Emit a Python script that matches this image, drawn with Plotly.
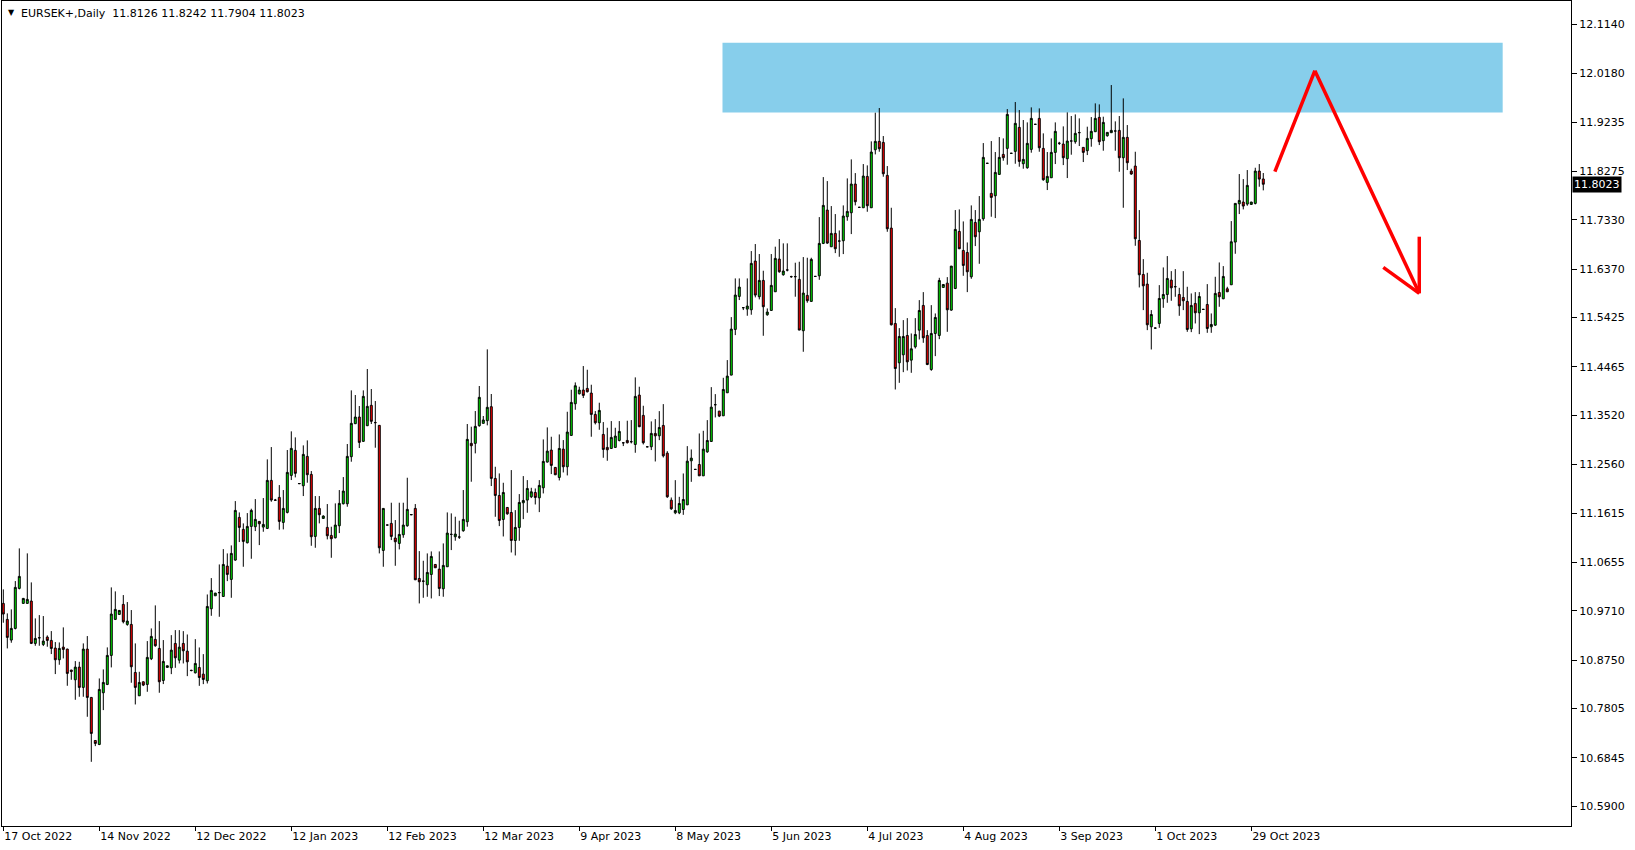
import plotly.graph_objects as go

title_text = "EURSEK+,Daily  11.8126 11.8242 11.7904 11.8023"
last_price = 11.8023

opens = [
10.9854, 10.9542, 10.9139, 10.9366, 11.0146, 10.9854, 10.9854, 10.9899, 10.9074, 10.9180,
10.9054, 10.9197, 10.9132, 10.8983, 10.8755, 10.9002, 10.8963, 10.8554, 10.8365, 10.8612,
10.8216, 10.8963, 10.8021, 10.7182, 10.7104, 10.8112, 10.8274, 10.8840, 10.9542, 10.9639,
10.9834, 10.9444, 10.9444, 10.8508, 10.8053, 10.8326, 10.8274, 10.8775, 10.9152, 10.8976,
10.8352, 10.8606, 10.8598, 10.9073, 10.8748, 10.9073, 10.8923, 10.8550, 10.8501, 10.8605,
10.8475, 10.8345, 10.9749, 11.0002, 11.0061, 10.9989, 11.0581, 11.0321, 11.0698, 11.1530,
11.1296, 11.1036, 11.1354, 11.1348, 11.1452, 11.1341, 11.1315, 11.2251, 11.1868, 11.1920,
11.1432, 11.1627, 11.2349, 11.2836, 11.2186, 11.2147, 11.2719, 11.2368, 11.1159, 11.1705,
11.1510, 11.1335, 11.1179, 11.1133, 11.1367, 11.1796, 11.1796, 11.2713, 11.3356, 11.3486,
11.3012, 11.3317, 11.3714, 11.3380, 11.3324, 11.0886, 11.1380, 11.1413, 11.1127, 11.1023,
11.1192, 11.1367, 11.1580, 11.1705, 11.0340, 11.0290, 11.0217, 11.0418, 11.0613, 11.0522,
11.0139, 11.0568, 11.1198, 11.1153, 11.1146, 11.1270, 11.1445, 11.2973, 11.2973, 11.3317,
11.3363, 11.3415, 11.3688, 11.2289, 11.1958, 11.1490, 11.1724, 11.1626, 11.1080, 11.1334,
11.1815, 11.1867, 11.1932, 11.2016, 11.1912, 11.2107, 11.2608, 11.2842, 11.2504, 11.2309,
11.2861, 11.2517, 11.3128, 11.3745, 11.3940, 11.4012, 11.4044, 11.3953, 11.3537, 11.3375,
11.3147, 11.2894, 11.2874, 11.2894, 11.3030, 11.2985, 11.3030, 11.3004, 11.2952, 11.3914,
11.3518, 11.2907, 11.2907, 11.3166, 11.3120, 11.3322, 11.2782, 11.1866, 11.1619, 11.1619,
11.1684, 11.1775, 11.2633, 11.2464, 11.2561, 11.2340, 11.2808, 11.3010, 11.3725, 11.3601,
11.3510, 11.3959, 11.4303, 11.5194, 11.5837, 11.5616, 11.5590, 11.5577, 11.6526, 11.5831,
11.6149, 11.5480, 11.5564, 11.5928, 11.6565, 11.6260, 11.6351, 11.6221, 11.6221, 11.6169,
11.5168, 11.5857, 11.5740, 11.6226, 11.6239, 11.6870, 11.7520, 11.6805, 11.7065, 11.6915,
11.6922, 11.7390, 11.7468, 11.8027, 11.7572, 11.7565, 11.8176, 11.7565, 11.8696, 11.8859,
11.8839, 11.8196, 11.7169, 11.5310, 11.4543, 11.4699, 11.5076, 11.4595, 11.4855, 11.5180,
11.5661, 11.5076, 11.4413, 11.5115, 11.5076, 11.6012, 11.6096, 11.5570, 11.5992, 11.7104,
11.6733, 11.6694, 11.6220, 11.7279, 11.7097, 11.7351, 11.8430, 11.7845, 11.7799, 11.8215,
11.8605, 11.8722, 11.8625, 11.8664, 11.9132, 11.8423, 11.8345, 11.8703, 11.9190, 11.9307,
11.8722, 11.8059, 11.8150, 11.8644, 11.8820, 11.8807, 11.8521, 11.8865, 11.8852, 11.9028,
11.8742, 11.8677, 11.8911, 11.9047, 11.9327, 11.8872, 11.8969, 11.9028, 11.9060, 11.9073,
11.8540, 11.8937, 11.8280, 11.8378, 11.6928, 11.6265, 11.6077, 11.5245, 11.5219, 11.5310,
11.5791, 11.5875, 11.6155, 11.6025, 11.5875, 11.5817, 11.5739, 11.5206, 11.5700, 11.5518,
11.5583, 11.5680, 11.5245, 11.5277, 11.5914, 11.5791, 11.5986, 11.6064, 11.6896, 11.7643,
11.7676, 11.7637, 11.7630, 11.7650, 11.8280, 11.8126,
]

highs = [
11.0127, 10.9659, 10.9737, 11.0289, 11.0926, 10.9960, 11.0829, 11.0263, 10.9561, 10.9626,
10.9607, 10.9230, 10.9314, 10.9100, 10.9093, 10.9386, 10.8970, 10.8560, 10.8729, 10.8716,
10.9074, 10.9217, 10.8030, 10.7185, 10.8391, 10.8567, 10.8996, 11.0166, 11.0088, 10.9720,
11.0016, 10.9880, 10.9724, 10.9074, 10.8521, 10.8330, 10.9119, 10.9366, 10.9815, 10.9509,
10.9139, 10.8640, 10.9235, 10.9333, 10.9333, 10.9313, 10.9248, 10.8560, 10.9157, 10.8995,
10.8865, 11.0028, 11.0347, 11.0060, 11.0613, 11.0912, 11.0828, 11.0984, 11.1848, 11.1627,
11.1413, 11.1614, 11.1699, 11.1887, 11.1458, 11.1907, 11.2661, 11.2901, 11.1890, 11.2160,
11.2063, 11.2843, 11.3207, 11.3090, 11.2195, 11.2934, 11.3031, 11.2433, 11.1946, 11.1946,
11.1570, 11.1790, 11.1348, 11.1803, 11.2063, 11.2316, 11.2960, 11.4006, 11.3915, 11.3701,
11.4006, 11.4422, 11.4032, 11.3798, 11.3330, 11.1710, 11.1385, 11.1816, 11.1478, 11.1816,
11.1816, 11.2303, 11.1590, 11.1790, 11.0873, 11.0685, 11.0828, 11.0867, 11.0620, 11.0867,
11.1023, 11.1627, 11.1608, 11.1543, 11.1465, 11.2063, 11.3350, 11.3298, 11.3603, 11.4091,
11.3506, 11.4805, 11.3935, 11.2517, 11.2387, 11.2205, 11.1730, 11.2452, 11.1672, 11.1984,
11.2335, 11.2257, 11.2107, 11.2094, 11.2257, 11.3050, 11.3284, 11.3102, 11.2510, 11.3147,
11.3037, 11.3589, 11.4018, 11.4161, 11.4077, 11.4480, 11.4408, 11.4116, 11.3602, 11.3765,
11.3388, 11.3277, 11.3407, 11.3277, 11.3407, 11.2990, 11.3414, 11.3427, 11.4259, 11.4077,
11.3706, 11.2910, 11.3401, 11.3445, 11.3601, 11.3738, 11.2821, 11.1918, 11.2256, 11.1931,
11.2386, 11.2919, 11.2854, 11.2470, 11.3166, 11.3218, 11.3426, 11.4069, 11.3933, 11.3605,
11.4251, 11.4596, 11.5434, 11.6188, 11.6188, 11.5620, 11.6188, 11.6721, 11.6858, 11.6663,
11.6338, 11.5603, 11.6663, 11.6806, 11.6955, 11.6871, 11.6871, 11.6240, 11.6494, 11.6513,
11.6604, 11.6591, 11.6591, 11.6235, 11.7383, 11.8163, 11.8085, 11.7598, 11.7442, 11.7123,
11.7611, 11.8137, 11.8508, 11.8241, 11.7580, 11.8417, 11.8391, 11.8859, 11.9418, 11.9509,
11.8963, 11.8378, 11.7565, 11.5609, 11.5219, 11.5375, 11.5414, 11.5115, 11.5414, 11.5765,
11.5921, 11.5180, 11.5667, 11.5505, 11.6200, 11.6072, 11.6213, 11.6430, 11.7520, 11.7533,
11.7299, 11.6889, 11.7611, 11.7520, 11.7793, 11.8826, 11.8435, 11.8865, 11.8651, 11.8943,
11.8917, 11.9489, 11.8630, 11.9626, 11.9470, 11.9275, 11.9229, 11.9522, 11.9195, 11.9502,
11.9015, 11.8651, 11.8917, 11.9229, 11.8850, 11.9151, 11.9424, 11.9353, 11.9385, 11.9307,
11.8745, 11.9145, 11.9333, 11.9600, 11.9580, 11.9340, 11.9036, 11.9957, 11.9249, 11.9353,
11.9697, 11.9177, 11.8326, 11.8657, 11.7520, 11.6564, 11.6298, 11.5570, 11.5225, 11.6057,
11.6402, 11.6623, 11.6330, 11.6369, 11.6005, 11.6330, 11.6025, 11.5895, 11.5921, 11.5921,
11.5590, 11.6077, 11.5505, 11.6220, 11.6499, 11.6428, 11.6025, 11.7305, 11.7650, 11.8222,
11.8124, 11.8300, 11.7680, 11.8345, 11.8417, 11.8242,
]

lows = [
10.9477, 10.8976, 10.9087, 10.9347, 11.0127, 10.9850, 10.9850, 10.9061, 10.9028, 10.9028,
10.9022, 10.9009, 10.8866, 10.8476, 10.8658, 10.8781, 10.8248, 10.8365, 10.7975, 10.8034,
10.8034, 10.7644, 10.6766, 10.7072, 10.7091, 10.7774, 10.8261, 10.8606, 10.9529, 10.9635,
10.9464, 10.9418, 10.8307, 10.7884, 10.8050, 10.8242, 10.8131, 10.8749, 10.9009, 10.8112,
10.8281, 10.8600, 10.8475, 10.8598, 10.8683, 10.8683, 10.8436, 10.8530, 10.8488, 10.8247,
10.8280, 10.8293, 10.9612, 11.0000, 10.9593, 10.9985, 11.0288, 10.9963, 11.0685, 11.1049,
11.0568, 11.1023, 11.0724, 11.1263, 11.0990, 11.1250, 11.1302, 11.1835, 11.1850, 11.1289,
11.1296, 11.1608, 11.2258, 11.2310, 11.2180, 11.1946, 11.2206, 11.0977, 11.0938, 11.1413,
11.1500, 11.1101, 11.0743, 11.1120, 11.1224, 11.1783, 11.1738, 11.2615, 11.3350, 11.2882,
11.3006, 11.3310, 11.3350, 11.2888, 11.0828, 11.0568, 11.1375, 11.1088, 11.0587, 11.0906,
11.1133, 11.1348, 11.1575, 11.0308, 10.9853, 10.9963, 10.9983, 10.9950, 11.0545, 10.9996,
10.9983, 11.0565, 11.0893, 11.1075, 11.1110, 11.1250, 11.1348, 11.2225, 11.2778, 11.3298,
11.3360, 11.3324, 11.2141, 11.1542, 11.1360, 11.1158, 11.1581, 11.0846, 11.0788, 11.1074,
11.1496, 11.1620, 11.1906, 11.1782, 11.1633, 11.1997, 11.2600, 11.2374, 11.2354, 11.2250,
11.2406, 11.2348, 11.3122, 11.3628, 11.3927, 11.3856, 11.3966, 11.3102, 11.3342, 11.3238,
11.2692, 11.2634, 11.2870, 11.2887, 11.3011, 11.2920, 11.2972, 11.2972, 11.2790, 11.3290,
11.2952, 11.2900, 11.2842, 11.2620, 11.3036, 11.2698, 11.1911, 11.1677, 11.1593, 11.1593,
11.1580, 11.1770, 11.2223, 11.2460, 11.2340, 11.2338, 11.2789, 11.3008, 11.3478, 11.3485,
11.3508, 11.3957, 11.4301, 11.5083, 11.5766, 11.5571, 11.5460, 11.5480, 11.5818, 11.5779,
11.5070, 11.5460, 11.5562, 11.5926, 11.6299, 11.6241, 11.6325, 11.6200, 11.5831, 11.5179,
11.4758, 11.5714, 11.5738, 11.6220, 11.6161, 11.6857, 11.6863, 11.6803, 11.6681, 11.6610,
11.6662, 11.7312, 11.7052, 11.7611, 11.7565, 11.7563, 11.7487, 11.7563, 11.8605, 11.8657,
11.8170, 11.7097, 11.5271, 11.4023, 11.4153, 11.4361, 11.4393, 11.4348, 11.4822, 11.4998,
11.4933, 11.4497, 11.4387, 11.4673, 11.5004, 11.6010, 11.5147, 11.5557, 11.5979, 11.6760,
11.6239, 11.5921, 11.6181, 11.6818, 11.6473, 11.7312, 11.8425, 11.7390, 11.7364, 11.8209,
11.8482, 11.8404, 11.8620, 11.8423, 11.8365, 11.8326, 11.8326, 11.8638, 11.9185, 11.8657,
11.8092, 11.7910, 11.8148, 11.8417, 11.8790, 11.8397, 11.8144, 11.8599, 11.8813, 11.8768,
11.8456, 11.8592, 11.8755, 11.9045, 11.8787, 11.8677, 11.8950, 11.9026, 11.8677, 11.8267,
11.7565, 11.8300, 11.8209, 11.6824, 11.6012, 11.5570, 11.5180, 11.4803, 11.5213, 11.5225,
11.5615, 11.5713, 11.5752, 11.5830, 11.5459, 11.5570, 11.5147, 11.5141, 11.5310, 11.5102,
11.5578, 11.5128, 11.5128, 11.5264, 11.5635, 11.5784, 11.5925, 11.6062, 11.6668, 11.7442,
11.7533, 11.7604, 11.7628, 11.7630, 11.7975, 11.7904,
]

closes = [
10.9646, 10.9191, 10.9366, 11.0166, 11.0380, 10.9951, 10.9932, 10.9074, 10.9171, 10.9185,
10.9119, 10.9132, 10.8976, 10.8755, 10.8976, 10.8957, 10.8489, 10.8528, 10.8612, 10.8216,
10.8963, 10.8021, 10.7319, 10.7124, 10.8177, 10.8313, 10.8840, 10.9646, 10.9737, 10.9717,
10.9496, 10.9509, 10.8619, 10.8216, 10.8313, 10.8261, 10.8801, 10.9210, 10.9028, 10.8326,
10.8723, 10.8638, 10.8943, 10.8793, 10.9001, 10.8930, 10.8715, 10.8545, 10.8683, 10.8410,
10.8371, 10.9794, 11.0106, 11.0054, 11.0065, 11.0613, 11.0418, 11.0828, 11.1666, 11.1335,
11.1062, 11.1354, 11.1666, 11.1491, 11.1406, 11.1393, 11.2251, 11.1868, 11.1865, 11.1452,
11.1705, 11.2407, 11.2875, 11.2388, 11.2190, 11.2758, 11.2362, 11.1153, 11.1705, 11.1582,
11.1556, 11.1172, 11.1114, 11.1380, 11.1803, 11.2043, 11.2719, 11.3363, 11.3486, 11.2992,
11.3889, 11.3694, 11.3402, 11.3376, 11.0938, 11.1705, 11.1382, 11.1159, 11.1055, 11.1198,
11.1380, 11.1686, 11.1585, 11.0314, 11.0275, 11.0286, 11.0457, 11.0769, 11.0548, 11.0145,
11.0594, 11.1224, 11.1200, 11.1205, 11.1148, 11.1491, 11.3051, 11.2927, 11.3304, 11.3870,
11.3428, 11.3675, 11.2290, 11.1958, 11.1470, 11.2016, 11.1600, 11.1080, 11.1334, 11.1821,
11.1860, 11.2094, 11.2029, 11.1919, 11.2153, 11.2621, 11.2822, 11.2543, 11.2361, 11.2874,
11.2517, 11.3193, 11.3771, 11.4096, 11.4012, 11.3908, 11.3979, 11.3537, 11.3375, 11.3615,
11.2855, 11.2848, 11.3089, 11.3115, 11.3206, 11.2983, 11.2985, 11.3006, 11.3888, 11.3297,
11.2985, 11.2905, 11.3167, 11.3120, 11.3283, 11.2730, 11.1931, 11.1697, 11.1664, 11.1801,
11.1879, 11.2626, 11.2685, 11.2466, 11.2340, 11.2860, 11.3029, 11.3679, 11.3727, 11.3504,
11.4024, 11.4284, 11.5200, 11.5863, 11.6019, 11.5618, 11.5649, 11.6481, 11.5863, 11.6149,
11.5636, 11.5532, 11.6052, 11.6578, 11.6318, 11.6331, 11.6353, 11.6223, 11.6223, 11.5181,
11.5902, 11.5753, 11.6559, 11.6228, 11.6870, 11.7611, 11.6876, 11.7065, 11.6766, 11.6917,
11.7403, 11.7494, 11.8027, 11.7682, 11.7574, 11.8183, 11.7604, 11.8651, 11.8859, 11.8716,
11.8228, 11.7156, 11.5284, 11.4432, 11.5056, 11.5056, 11.4562, 11.4816, 11.5095, 11.5563,
11.5030, 11.4510, 11.5115, 11.5427, 11.6148, 11.6070, 11.5576, 11.6428, 11.7143, 11.6766,
11.6441, 11.6317, 11.7338, 11.7000, 11.7338, 11.8547, 11.8432, 11.7767, 11.8254, 11.8547,
11.8540, 11.9385, 11.8627, 11.9210, 11.8469, 11.8508, 11.8820, 11.9307, 11.9192, 11.8735,
11.8111, 11.8176, 11.8644, 11.9054, 11.8822, 11.8540, 11.8865, 11.8867, 11.9015, 11.9030,
11.8644, 11.8917, 11.9054, 11.9307, 11.8852, 11.9229, 11.9034, 11.9073, 11.9062, 11.8540,
11.8937, 11.8443, 11.8222, 11.6961, 11.6259, 11.6044, 11.5284, 11.5485, 11.5221, 11.5797,
11.5875, 11.6187, 11.6005, 11.6027, 11.5654, 11.5752, 11.5193, 11.5661, 11.5518, 11.5836,
11.5585, 11.5212, 11.5290, 11.5895, 11.5830, 11.6226, 11.5927, 11.6902, 11.7650, 11.7708,
11.7598, 11.8001, 11.7676, 11.8280, 11.8124, 11.8023,
]

date_labels = ["17 Oct 2022", "14 Nov 2022", "12 Dec 2022", "12 Jan 2023", "12 Feb 2023",
               "12 Mar 2023", "9 Apr 2023", "8 May 2023", "5 Jun 2023", "4 Jul 2023",
               "4 Aug 2023", "3 Sep 2023", "1 Oct 2023", "29 Oct 2023"]
label_bars = [0, 24, 48, 72, 96, 120, 144, 168, 192, 216, 240, 264, 288, 312]

price_ticks = [12.1140, 12.0180, 11.9235, 11.8275, 11.7330, 11.6370, 11.5425, 11.4465,
               11.3520, 11.2560, 11.1615, 11.0655, 10.9710, 10.8750, 10.7805, 10.6845, 10.5900]

# drawings (bar index / price)
zone_bars = [179.8, 374.85]
zone_prices = [11.942, 12.078]
path_bars = [317.9, 327.9, 354.0]
path_prices = [11.8268, 12.0236, 11.5897]
head_bars = [345.0, 354.0, 354.0]
head_prices = [11.6404, 11.5897, 11.7001]

n = len(opens)
if not (len(highs) == n and len(lows) == n and len(closes) == n):
    raise ValueError(f"lengths {len(opens)} {len(highs)} {len(lows)} {len(closes)}")
bars = list(range(n))

FONT = "DejaVu Sans"
GREEN = "#00E600"
RED = "#FF0000"

fig = go.Figure()
fig.add_trace(go.Candlestick(
    x=bars, open=opens, high=highs, low=lows, close=closes,
    increasing=dict(line=dict(color="black", width=1), fillcolor=GREEN),
    decreasing=dict(line=dict(color="black", width=1), fillcolor=RED),
    whiskerwidth=0, hoverinfo="skip", showlegend=False,
))

shapes = [dict(type="rect", xref="x", yref="y", x0=zone_bars[0], x1=zone_bars[1],
               y0=zone_prices[0], y1=zone_prices[1], fillcolor="#87CEEB",
               line=dict(width=0), layer="below")]
for i in range(len(path_bars) - 1):
    shapes.append(dict(type="line", xref="x", yref="y",
                       x0=path_bars[i], y0=path_prices[i], x1=path_bars[i + 1], y1=path_prices[i + 1],
                       line=dict(color="#FF0000", width=3.5)))
shapes.append(dict(type="line", xref="x", yref="y", x0=head_bars[0], y0=head_prices[0],
                   x1=head_bars[1], y1=head_prices[1], line=dict(color="#FF0000", width=3.5)))
shapes.append(dict(type="line", xref="x", yref="y", x0=head_bars[2], y0=head_prices[2],
                   x1=head_bars[1], y1=head_prices[1], line=dict(color="#FF0000", width=3.5)))

annotations = [
    dict(xref="paper", yref="paper", x=0, y=1, xanchor="left", yanchor="top",
         xshift=4, yshift=-5, text="▼", showarrow=False,
         font=dict(family=FONT, size=8, color="black")),
    dict(xref="paper", yref="paper", x=0, y=1, xanchor="left", yanchor="top",
         xshift=17, yshift=-4, text=title_text, showarrow=False,
         font=dict(family=FONT, size=11, color="black")),
    dict(xref="paper", yref="y", x=1, y=last_price, xanchor="left", yanchor="middle",
         xshift=1, text=f"{last_price:.4f}", showarrow=False, bgcolor="black",
         borderpad=1, font=dict(family=FONT, size=11, color="white")),
]

fig.update_layout(
    width=1635, height=850,
    margin=dict(l=2, r=64, t=1, b=24),
    paper_bgcolor="white", plot_bgcolor="white",
    shapes=shapes, annotations=annotations,
    showlegend=False,
    xaxis=dict(range=[-0.325, 391.93], rangeslider=dict(visible=False),
               tickmode="array", tickvals=label_bars, ticktext=date_labels,
               ticks="outside", ticklen=4, tickcolor="black",
               ticklabelposition="outside right",
               showgrid=False, zeroline=False, showline=True, linecolor="black",
               linewidth=1, mirror=True,
               tickfont=dict(family=FONT, size=11, color="black")),
    yaxis=dict(range=[10.5515, 12.1595], side="right",
               tickmode="array", tickvals=price_ticks,
               ticktext=[f"{v:.4f}" for v in price_ticks],
               ticks="outside", ticklen=5, tickcolor="black",
               showgrid=False, zeroline=False, showline=True, linecolor="black",
               linewidth=1, mirror=True,
               tickfont=dict(family=FONT, size=11, color="black")),
)

fig.write_html("out.html", config={"displayModeBar": False},
               post_script="document.body.style.margin='0';")
